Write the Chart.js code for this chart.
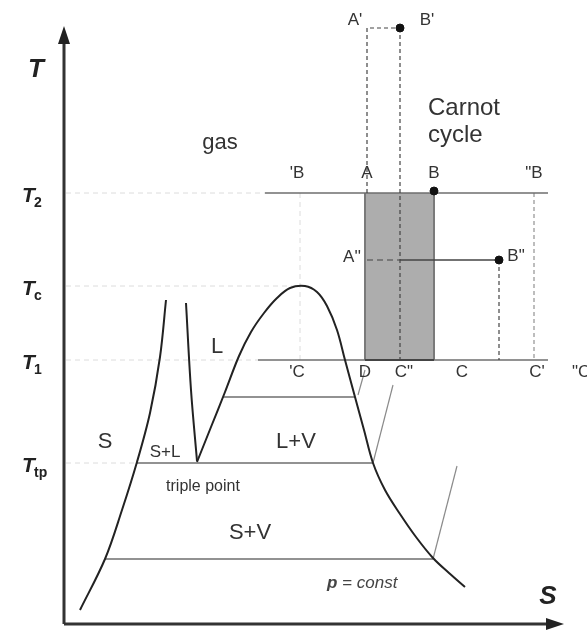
<!DOCTYPE html>
<html>
<head>
<meta charset="utf-8">
<script src="https://cdn.jsdelivr.net/npm/chart.js@4/dist/chart.umd.min.js"></script>
<style>
  body { margin: 0; background: #fff; }
  #wrap { width: 587px; height: 632px; position: relative; }
</style>
</head>
<body>
<div id="wrap"><canvas id="ts_chart"></canvas></div>
<script>
// entropy S (x) and temperature T (y), arbitrary units
var T_2 = 431, T_c = 338, T_1 = 264, T_tp = 161;
var T_mid = 227, T_low = 65;

var solid_s = [16, 41, 58, 73, 86, 96, 102];
var solid_t = [14, 65, 114, 162, 211, 267, 324];

var melt_s = [122, 127, 133];
var melt_t = [321, 234, 163];

var dome_s = [133, 147, 161, 175, 187, 200, 213, 226, 241, 253, 263, 273, 281, 291, 300, 309, 321, 336, 352, 369, 385, 401];
var dome_t = [162, 197, 232, 268, 292, 311, 326, 336, 338, 332, 318, 294, 264, 227, 194, 161, 134, 110, 87, 66, 51, 37];

// tie lines / isotherms: [s_start, s_end, T]
var isotherms = [
  [201, 484, T_2],
  [194, 484, T_1],
  [159, 291, T_mid],
  [73, 309, T_tp],
  [41, 369, T_low]
];

// isobar stubs in the vapour region
var isobars = [
  [[294, 229], [301, 254]],
  [[309, 161], [329, 239]],
  [[369, 65], [393, 158]]
];

// carnot cycle corners
var carnot_s = [301, 370];
var carnot_t = [T_1, T_2];

var tick_labels = [
  ['2', T_2],
  ['c', T_c],
  ['1', T_1],
  ['tp', T_tp]
];

// text annotations: [text, s, t, size, align]
var notes = [
  ["A'", 291, 604, 17, ''],
  ["B'", 363, 604, 17, ''],
  ['Carnot', 364, 516, 24, 'left'],
  ['cycle', 364, 489, 24, 'left'],
  ["'B", 233, 451, 17, ''],
  ['A', 303, 451, 17, ''],
  ['B', 370, 451, 17, ''],
  ['"B', 470, 451, 17, ''],
  ["A''", 288, 367, 17, ''],
  ['B"', 452, 368, 17, ''],
  ["'C", 233, 252, 17, ''],
  ['D', 301, 252, 17, ''],
  ['C"', 340, 252, 17, ''],
  ['C', 398, 252, 17, ''],
  ["C'", 473, 252, 17, ''],
  ['"C', 508, 252, 17, 'left'],
  ['gas', 156, 481, 22, ''],
  ['L', 153, 277, 22, ''],
  ['S', 41, 182, 22, ''],
  ['S+L', 101, 172, 17, ''],
  ['L+V', 232, 182, 22, ''],
  ['triple point', 139, 137, 16, ''],
  ['S+V', 186, 91, 22, '']
];

function pts(xs, ys) {
  var out = [];
  for (var i = 0; i < xs.length; i++) out.push({x: xs[i], y: ys[i]});
  return out;
}

function seg(a, b) {
  return [{x: a[0], y: a[1]}, {x: b[0], y: b[1]}];
}

var datasets = [];

// carnot rectangle fill (drawn first, underneath)
datasets.push({
  data: [{x: carnot_s[0], y: carnot_t[1]}, {x: carnot_s[1], y: carnot_t[1]}],
  borderWidth: 0, borderColor: 'rgba(0,0,0,0)',
  backgroundColor: '#adadad', fill: {value: carnot_t[0]}, pointRadius: 0, order: 10
});
datasets.push({data: seg([carnot_s[0], carnot_t[0]], [carnot_s[0], carnot_t[1]]), borderColor: '#7a7a7a', borderWidth: 2, pointRadius: 0, order: 5});
datasets.push({data: seg([carnot_s[1], carnot_t[0]], [carnot_s[1], carnot_t[1]]), borderColor: '#7a7a7a', borderWidth: 2, pointRadius: 0, order: 5});

// faint dashed guides from the T axis
var guides = [[201, T_2], [236, T_c], [194, T_1], [73, T_tp]];
guides.forEach(function (g) {
  datasets.push({data: seg([2, g[1]], [g[0], g[1]]), borderColor: '#dcdcdc', borderWidth: 1, borderDash: [5, 4], pointRadius: 0, order: 5});
});
datasets.push({data: seg([236, T_2], [236, T_1]), borderColor: '#dcdcdc', borderWidth: 1, borderDash: [5, 4], pointRadius: 0, order: 5});
datasets.push({data: seg([470, T_2], [470, T_1]), borderColor: '#9a9a9a', borderWidth: 1.3, borderDash: [4, 3], pointRadius: 0, order: 5});

// isotherms
isotherms.forEach(function (r) {
  datasets.push({data: seg([r[0], r[2]], [r[1], r[2]]), borderColor: '#6e6e6e', borderWidth: 1.6, pointRadius: 0, order: 4});
});
datasets.push({data: seg([carnot_s[0], T_1], [carnot_s[1], T_1]), borderColor: '#444', borderWidth: 2, pointRadius: 0, order: 3});

isobars.forEach(function (b) {
  datasets.push({data: seg(b[0], b[1]), borderColor: '#8a8a8a', borderWidth: 1.2, pointRadius: 0, order: 4});
});

// dashed cycle variants
var dashed = '#444';
datasets.push({data: [{x: 303, y: T_2}, {x: 303, y: 596}, {x: 336, y: 596}], borderColor: dashed, borderWidth: 1.2, borderDash: [4, 3], pointRadius: 0, order: 2});
datasets.push({data: seg([336, 596], [336, T_1]), borderColor: dashed, borderWidth: 1.2, borderDash: [4, 3], pointRadius: 0, order: 2});
datasets.push({data: seg([303, 364], [336, 364]), borderColor: dashed, borderWidth: 1.2, borderDash: [6, 4], pointRadius: 0, order: 2});
datasets.push({data: seg([336, 364], [435, 364]), borderColor: '#444', borderWidth: 1.4, pointRadius: 0, order: 2});
datasets.push({data: seg([435, 364], [435, T_1]), borderColor: dashed, borderWidth: 1.2, borderDash: [4, 3], pointRadius: 0, order: 2});

// main curves
datasets.push({data: pts(solid_s, solid_t), borderColor: '#222', borderWidth: 2, tension: 0.35, pointRadius: 0, order: 1});
datasets.push({data: pts(melt_s, melt_t), borderColor: '#222', borderWidth: 2, tension: 0.35, pointRadius: 0, order: 1});
datasets.push({data: pts(dome_s, dome_t), borderColor: '#222', borderWidth: 2, tension: 0.35, pointRadius: 0, order: 1});

// dots
datasets.push({data: [{x: 336, y: 596}, {x: 370, y: 433}, {x: 435, y: 364}], showLine: false, pointRadius: 4, backgroundColor: '#111', borderColor: '#111', order: 0});

// axes
datasets.push({data: seg([0, 0], [0, 585]), borderColor: '#333', borderWidth: 3, pointRadius: 0, order: 0});
datasets.push({data: seg([0, 0], [488, 0]), borderColor: '#333', borderWidth: 3, pointRadius: 0, order: 0});

var notesPlugin = {
  id: 'notes',
  afterDatasetsDraw: function (chart) {
    var ctx = chart.ctx;
    var xs = chart.scales.x, ys = chart.scales.y;
    var px = function (s) { return xs.getPixelForValue(s); };
    var py = function (t) { return ys.getPixelForValue(t); };
    ctx.save();

    // arrow heads
    ctx.fillStyle = '#222';
    ctx.beginPath();
    ctx.moveTo(px(0), py(598)); ctx.lineTo(px(0) - 6, py(580)); ctx.lineTo(px(0) + 6, py(580));
    ctx.closePath(); ctx.fill();
    ctx.beginPath();
    ctx.moveTo(px(500), py(0)); ctx.lineTo(px(482), py(0) - 6); ctx.lineTo(px(482), py(0) + 6);
    ctx.closePath(); ctx.fill();

    ctx.textBaseline = 'middle';
    ctx.fillStyle = '#333';
    notes.forEach(function (n) {
      ctx.font = n[3] + 'px "Liberation Sans", Arial, sans-serif';
      ctx.textAlign = n[4] == 'left' ? 'left' : 'center';
      ctx.fillText(n[0], px(n[1]), py(n[2]));
    });

    // axis names
    ctx.fillStyle = '#222';
    ctx.textAlign = 'center';
    ctx.font = 'italic bold 26px "Liberation Sans", Arial, sans-serif';
    ctx.fillText('T', px(-28), py(554));
    ctx.fillText('S', px(484), py(27));

    // T tick labels with subscripts
    tick_labels.forEach(function (tl) {
      var x0 = px(-38), y0 = py(tl[1]) + 3;
      ctx.textAlign = 'left';
      ctx.font = 'italic bold 21px "Liberation Sans", Arial, sans-serif';
      ctx.fillText('T', x0 - 4, y0);
      ctx.font = 'bold 14px "Liberation Sans", Arial, sans-serif';
      ctx.fillText(tl[0], x0 + 8, y0 + 7);
    });

    // p = const
    ctx.fillStyle = '#444';
    ctx.textAlign = 'left';
    ctx.font = 'italic bold 17px "Liberation Sans", Arial, sans-serif';
    var xp = px(263), yp = py(41);
    ctx.fillText('p', xp, yp);
    var w = ctx.measureText('p ').width;
    ctx.font = 'italic 17px "Liberation Sans", Arial, sans-serif';
    ctx.fillText('= const', xp + w, yp);
    ctx.restore();
  }
};

const ctx = document.getElementById('ts_chart').getContext('2d');
const ts_chart = new Chart(ctx, {
  type: 'scatter',
  data: { datasets: datasets.map(function (d) { d.showLine = d.showLine !== false; return d; }) },
  options: {
    animation: false,
    responsive: true,
    maintainAspectRatio: false,
    layout: { padding: 0, autoPadding: false },
    scales: {
      x: { type: 'linear', min: -64, max: 523, display: false },
      y: { type: 'linear', min: -8, max: 624, display: false }
    },
    plugins: {
      legend: { display: false },
      tooltip: { enabled: false }
    }
  },
  plugins: [notesPlugin]
});
</script>
</body>
</html>
